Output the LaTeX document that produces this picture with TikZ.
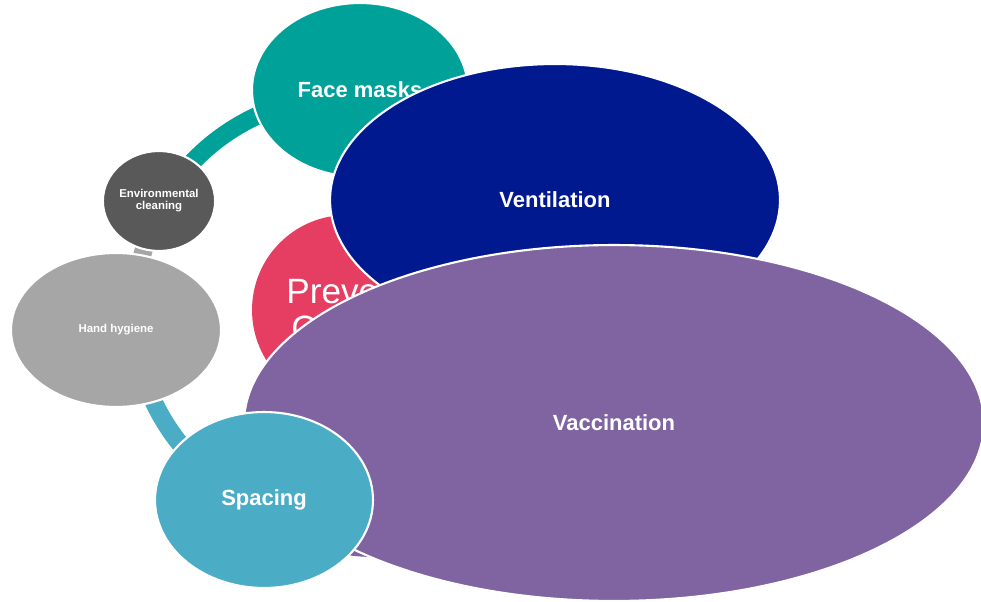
\documentclass[tikz,border=0pt]{standalone}
\usepackage{fontspec}
\setmainfont{Liberation Sans}
\usetikzlibrary{shapes,calc,backgrounds}
\definecolor{maskgreen}{HTML}{00A199}
\definecolor{cleangray}{HTML}{595959}
\definecolor{handgray}{HTML}{A6A6A6}
\definecolor{spaceblue}{HTML}{4BACC6}
\definecolor{ventblue}{HTML}{00198F}
\definecolor{vaccpurple}{HTML}{8064A2}
\definecolor{corered}{HTML}{E63E62}

\begin{document}
\begin{tikzpicture}[x=0.02cm, y=0.02cm, bubble/.style={ellipse,draw=white,line width=1.2pt,text=white,inner sep=0pt,align=center,font=\bfseries\fontsize{12.5}{15}\selectfont}, ring/.style={line width=0.36cm}]%line cap=butt
\useasboundingbox (0,0) rectangle (981,602);
\begin{scope}
\node[circle,fill=corered,text=white,minimum size=3.8cm,align=center,font=\fontsize{20}{21.5}\selectfont] (vCore) at (347,292) {Prevent\\COVID};
\node[bubble,fill=handgray,minimum width=4.2cm,minimum height=3.08cm,font=\bfseries\fontsize{6.5}{7}\selectfont] (vHand) at (116,272) {Hand hygiene};
\node[bubble,fill=cleangray,minimum width=2.24cm,minimum height=2cm,font=\bfseries\fontsize{6.5}{6.9}\selectfont] (vClean) at (159,401) {Environmental\\cleaning};
\node[bubble,fill=maskgreen,minimum width=4.32cm,minimum height=3.48cm] (vMask) at (360,512) {Face masks};
\node[bubble,fill=ventblue,minimum width=9cm,minimum height=5.44cm] (vVent) at (555,402) {Ventilation};
\node[bubble,fill=vaccpurple,minimum width=14.8cm,minimum height=7.12cm] (vVacc) at (614,179) {Vaccination};
\node[bubble,fill=spaceblue,minimum width=4.36cm,minimum height=3.52cm] (vSpace) at (264,102) {Spacing};
\end{scope}
\begin{pgfonlayer}{background}
\draw[ring,maskgreen] ($(vCore)+(100:214)$) arc[start angle=100,end angle=150,radius=214];
\draw[ring,handgray] ($(vCore)+(150:212)$) arc[start angle=150,end angle=195,radius=212];
\draw[ring,spaceblue] ($(vCore)+(195:214)$) arc[start angle=195,end angle=250,radius=214];
\draw[ring,vaccpurple] ($(vCore)+(250:214)$) .. controls (310,51) and (400,37) .. ($(vVacc)+(-144,-97)$);
\end{pgfonlayer}
\end{tikzpicture}
\end{document}
